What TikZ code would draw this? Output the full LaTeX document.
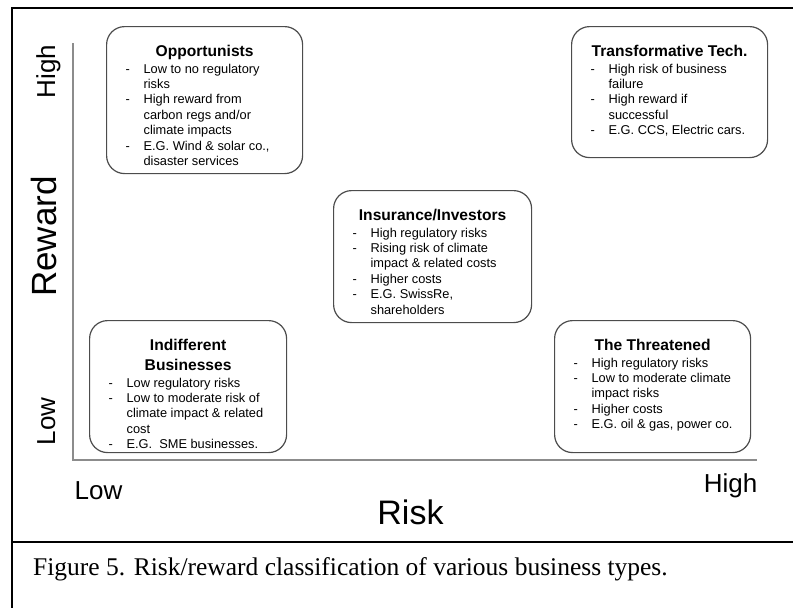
\documentclass[tikz,border=0pt]{standalone}
\usepackage{fontspec}
\setmainfont{Liberation Serif}
\setsansfont{Liberation Sans}
\usepackage{tikz}
\usetikzlibrary{positioning}

\newcommand{\bizitem}[1]{\par\noindent\hangindent=18pt\hangafter=1\makebox[18pt][l]{-}#1}
\newcommand{\bizbox}[4]{\parbox[t][#2][t]{#1}{\sffamily\hbadness=10000
    \setlength{\leftskip}{19pt}\vspace*{15.5pt}%
    {\centering\bfseries\fontsize{15.6}{20}\selectfont\rule{0pt}{14pt}#3\par}\vspace{1.5pt}%
    \fontsize{12.8}{15.4}\selectfont #4\par}}

\begin{document}
\begin{tikzpicture}[x=1pt, y=-1pt]
        \tikzstyle{quad}=[draw=black!70, line width=1.2pt, rounded corners=18pt,
            inner sep=0pt, anchor=north west]
        \tikzstyle{axisline}=[draw=black!45, line width=1.5pt]
        \tikzstyle{lbl}=[inner sep=0pt, anchor=base,
            font=\sffamily\fontsize{26}{30}\selectfont]
            \useasboundingbox (0,0) rectangle (793,608);

            % frame and caption
            \draw[line width=2pt] (793,8) -- (12,8) -- (12,608);
            \draw[line width=2pt] (12,542) -- (793,542);
            \node[inner sep=0pt, anchor=base west, font=\fontsize{25.5}{30}\selectfont]
                (caption) at (33,575)
                {Figure 5. Risk/reward classification of various business types.};

            % axes
            \coordinate (rtop) at (73,43);
            \coordinate (origin) at (73,460);
            \coordinate (rend) at (757,460);
            \draw[axisline] (rtop) -- (origin) -- (rend);

            \node[lbl, rotate=90] (rhigh) at (55,71.5) {High};
            \node[lbl, rotate=90, font=\sffamily\fontsize{35}{40}\selectfont]
                (reward) at (56,236.5) {Reward};
            \node[lbl, rotate=90] (rlow) at (55,421.5) {Low};
            \node[lbl] (klow) at (98.5,499) {Low};
            \node[lbl, font=\sffamily\fontsize{34}{40}\selectfont]
                (risk) at (410.5,524) {Risk};
            \node[lbl] (khigh) at (730.5,492) {High};

            % quadrants
            \node[quad] (opp) at (106,26) {\bizbox{196pt}{147pt}{Opportunists}{%
                \bizitem{Low to no regulatory\\risks}%
                \bizitem{High reward from\\carbon regs and/or\\climate impacts}%
                \bizitem{E.G. Wind \& solar co.,\\disaster services}}};
            \node[quad] (tech) at (571,26) {\bizbox{196pt}{131pt}{Transformative Tech.}{%
                \bizitem{High risk of business\\failure}%
                \bizitem{High reward if\\successful}%
                \bizitem{E.G. CCS, Electric cars.}}};
            \node[quad] (ins) at (333,190) {\bizbox{198pt}{132pt}{Insurance/Investors}{%
                \bizitem{High regulatory risks}%
                \bizitem{Rising risk of climate\\impact \& related costs}%
                \bizitem{Higher costs}%
                \bizitem{E.G. SwissRe,\\shareholders}}};
            \node[quad] (indiff) at (89,320) {\bizbox{197pt}{132pt}{Indifferent\\Businesses}{%
                \bizitem{Low regulatory risks}%
                \bizitem{Low to moderate risk of\\climate impact \& related\\cost}%
                \bizitem{E.G.\ \ SME businesses.}}};
            \node[quad] (threat) at (554,320) {\bizbox{196pt}{132pt}{The Threatened}{%
                \bizitem{High regulatory risks}%
                \bizitem{Low to moderate climate\\impact risks}%
                \bizitem{Higher costs}%
                \bizitem{E.G. oil \& gas, power co.}}};
\end{tikzpicture}
\end{document}
